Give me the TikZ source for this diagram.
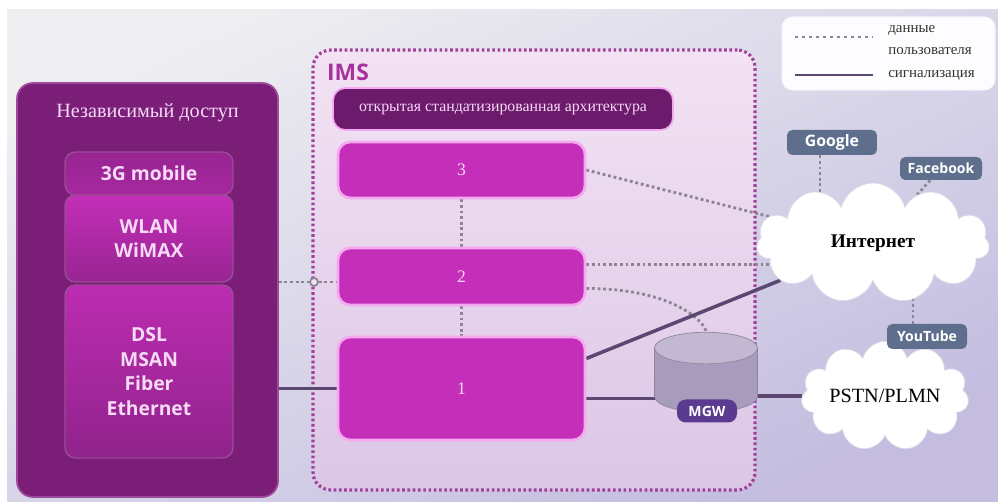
\documentclass[tikz,border=0pt]{standalone}
\usepackage{fontspec}
\setmainfont{Liberation Serif}
\newfontfamily\labelfont{Open Sans}
\usetikzlibrary{shapes.geometric,shapes.symbols}

\definecolor{bgtop}{HTML}{EEEEF1}
\definecolor{bgbot}{HTML}{C4BDE0}
\definecolor{accessfill}{HTML}{7A1E78}
\definecolor{accessedge}{HTML}{9C4A9A}
\definecolor{techtext}{HTML}{F6DAF6}
\definecolor{imsfill}{HTML}{C42EB8}
\definecolor{imsglow}{HTML}{F4A8F0}
\definecolor{barfill}{HTML}{6C1A6C}
\definecolor{imsborder}{HTML}{A0409A}
\definecolor{imslabel}{HTML}{A8309E}
\definecolor{paneltop}{HTML}{F3E2F3}
\definecolor{panelbot}{HTML}{DCC6E6}
\definecolor{dotgrey}{HTML}{8C8494}
\definecolor{sigline}{HTML}{5A4870}
\definecolor{tagfill}{HTML}{5E6F8E}
\definecolor{mgwtag}{HTML}{5B3B90}
\definecolor{mgwbody}{HTML}{A89CBC}
\definecolor{mgwtop}{HTML}{C2B8D2}
\definecolor{cloudedge}{HTML}{DEDAE8}

\pgfdeclarelayer{bg}
\pgfdeclarelayer{lines}
\pgfsetlayers{bg,lines,main}

\begin{document}
\begin{tikzpicture}[
    x=0.02cm, y=-0.02cm,
    techbox/.style={rectangle, rounded corners=6pt, draw=accessedge, line width=0.8pt, minimum width=3.36cm, align=center, text=techtext, font=\labelfont\bfseries\fontsize{11}{14}\selectfont},
    imsbox/.style={rectangle, rounded corners=7pt, fill=imsfill, draw=imsglow, line width=1.5pt, minimum width=4.94cm, text=techtext, font=\fontsize{10}{12}\selectfont},
    tag/.style={rectangle, rounded corners=3pt, fill=tagfill, text=white, inner sep=0pt, font=\labelfont\bfseries\fontsize{8}{10}\selectfont},
    netcloud/.style={cloud, cloud puffs=11, aspect=2, fill=white, draw=cloudedge, line width=0.4pt, inner sep=0pt},
    legendtext/.style={anchor=west, inner sep=0pt, text=black!80, font=\fontsize{8.5}{10}\selectfont},
    data/.style={dash pattern=on 1.6pt off 1.6pt, line width=1.6pt, draw=dotgrey},
    signal/.style={line width=2pt, draw=sigline}
]
    \useasboundingbox (0,0) rectangle (998,502);

    \begin{pgfonlayer}{bg}
        \fill[top color=bgtop, bottom color=bgbot, shading angle=25] (7,10) rectangle (998,502);
        % Access panel
        \node[rectangle, rounded corners=9pt, fill=accessfill, draw=accessedge, line width=1pt,
              minimum width=5.22cm, minimum height=8.28cm] (access) at (147.5,290) {};
        % IMS panel
        \node[rectangle, rounded corners=10pt, top color=paneltop, bottom color=panelbot, draw=imsborder,
              dash pattern=on 1.5pt off 1.5pt, line width=1.8pt,
              minimum width=8.84cm, minimum height=8.8cm] (ims) at (534,270) {};
    \end{pgfonlayer}

    % Access technologies
    \node[text=techtext, font=\fontsize{11.5}{13}\selectfont] (title) at (147.5,113) {Независимый доступ};
    \node[techbox, top color=accessfill!60!imsfill, bottom color=accessfill!40!imsfill, minimum height=0.86cm] (mobile) at (149,173.5) {3G mobile};
    \node[techbox, top color=imsfill, bottom color=accessfill!60!imsfill, minimum height=1.74cm] (wlan) at (149,238.5) {WLAN\\WiMAX};
    \node[techbox, top color=imsfill!90!accessfill, bottom color=accessfill!70!imsfill, minimum height=3.46cm] (dsl) at (149,371.5) {DSL\\MSAN\\Fiber\\Ethernet};

    % IMS layers
    \node[text=imslabel, font=\labelfont\bfseries\fontsize{13}{15}\selectfont] (imslabel) at (348,72) {IMS};
    \node[rectangle, rounded corners=7pt, fill=barfill, draw=imsglow, line width=1pt, minimum width=6.8cm, minimum height=0.84cm,
          text=techtext, font=\fontsize{9}{11}\selectfont] (bar) at (503,109) {открытая стандатизированная архитектура};
    \node[imsbox, minimum height=1.12cm] (box3) at (461.5,170) {3};
    \node[imsbox, minimum height=1.14cm] (box2) at (461.5,276.5) {2};
    \node[imsbox, minimum height=2.06cm] (box1) at (461.5,388.5) {1};
    \node[circle, draw=dotgrey, line width=1pt, fill=paneltop, inner sep=1.6pt] (junction) at (314,282) {};

    % Gateway and networks
    \node[cylinder, shape border rotate=90, aspect=2.7, minimum height=1.6cm, minimum width=2.06cm,
          draw=mgwbody!85!black, line width=0.4pt,
          cylinder uses custom fill, cylinder body fill=mgwbody, cylinder end fill=mgwtop] (mgw) at (706,384) {};
    \node[tag, fill=mgwtag, rounded corners=5pt, minimum width=1.2cm, minimum height=0.46cm] (mgwlabel) at (707,411) {MGW};
    \node[netcloud, minimum width=4.66cm, minimum height=2.4cm, font=\bfseries\fontsize{11}{13}\selectfont] (inet) at (873,243) {Интернет};
    \node[netcloud, minimum width=3.12cm, minimum height=1.6cm, font=\fontsize{11.5}{13}\selectfont] (pstn) at (885,396) {PSTN/PLMN};
    \node[tag, minimum width=1.8cm, minimum height=0.5cm, font=\labelfont\bfseries\fontsize{9}{11}\selectfont] (google) at (832,142.5) {Google};
    \node[tag, minimum width=1.64cm, minimum height=0.46cm] (facebook) at (941,168.5) {Facebook};
    \node[tag, minimum width=1.6cm, minimum height=0.5cm] (youtube) at (927,336.5) {YouTube};

    % Legend
    \node[rectangle, rounded corners=6pt, fill=white!96!bgbot, draw=white!85!bgbot, line width=0.6pt,
          minimum width=4.26cm, minimum height=1.46cm] (legend) at (888.5,53.5) {};
    \coordinate (dataA) at (795,37);
    \coordinate (dataB) at (873,37);
    \coordinate (sigA) at (795,75);
    \coordinate (sigB) at (873,75);
    \node[legendtext] (datatext) at (888,30) {данные};
    \node[legendtext] (usertext) at (888,51) {пользователя};
    \node[legendtext] (sigtext) at (888,75) {сигнализация};
    \draw[data, line width=1pt, dash pattern=on 1.5pt off 2.5pt] (dataA) -- (dataB);
    \draw[signal, line width=1pt] (sigA) -- (sigB);

    \begin{pgfonlayer}{lines}
        % User data
        \draw[data] (access.east |- junction) -- (junction) -- (junction -| box2.west);
        \draw[data] (box3) -- (box2);
        \draw[data] (box2) -- (box1);
        \draw[data] (box3.east) -- (inet);
        \draw[data] ([yshift=0.24cm]box2.east) -- ([yshift=0.24cm]box2.east -| inet);
        \draw[data] ([yshift=-0.24cm]box2.east) .. controls +(90,0) and +(0,-60) .. (mgw);
        \draw[data] ([xshift=-0.24cm]google.south) -- ([xshift=-0.24cm]google.south |- inet);
        \draw[data] (facebook) -- (inet);
        \draw[data] ([xshift=-0.28cm]youtube.north) -- ([xshift=-0.28cm]youtube.north |- inet);
        % Signalling
        \draw[signal] (access.east |- box1) -- (box1);
        \draw[signal] ([yshift=0.6cm]box1.east) -- (inet);
        \draw[signal] ([yshift=-0.2cm]box1.east) -- ([yshift=-0.2cm]box1.east -| mgw);
        \draw[signal] (mgw |- pstn) -- (pstn);
    \end{pgfonlayer}
\end{tikzpicture}
\end{document}
